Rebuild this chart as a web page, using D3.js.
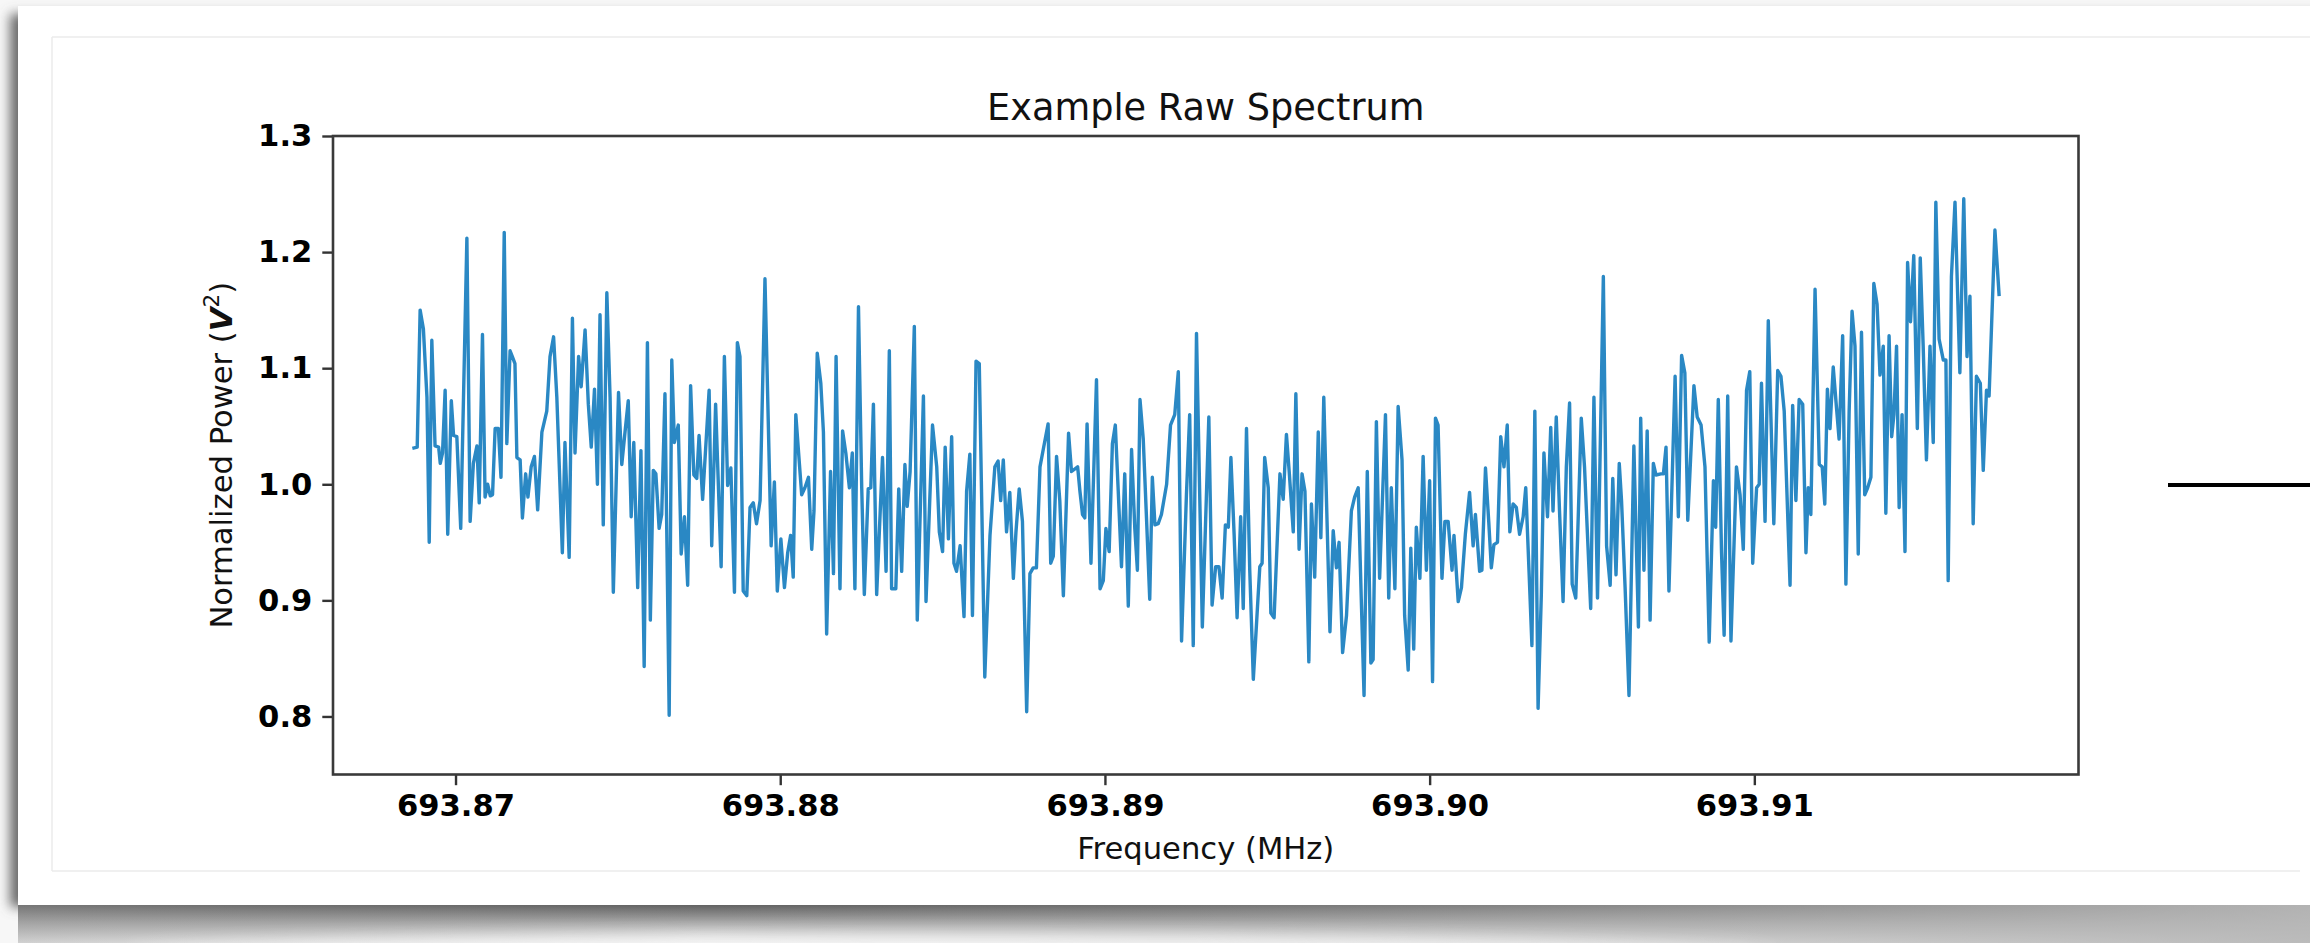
<!DOCTYPE html>
<html>
<head>
<meta charset="utf-8">
<script src="https://cdn.jsdelivr.net/npm/d3@7"></script>
<style>
  html, body { margin: 0; padding: 0; background: #fff; overflow: hidden; }
  text { font-family: "DejaVu Sans", sans-serif; }
</style>
</head>
<body>
<svg id="chart"></svg>
<script>
var width = 2310,
   height = 943;

// frequency of each plotted vertex (MHz) and its normalized power
const freqMHz = [
  693.86867, 693.86882, 693.86891, 693.86901, 693.86912, 693.86919, 693.86927, 693.86937, 693.86948, 693.86953,
  693.86960, 693.86968, 693.86976, 693.86987, 693.86994, 693.87004, 693.87016, 693.87035, 693.87045, 693.87055,
  693.87066, 693.87073, 693.87083, 693.87091, 693.87099, 693.87107, 693.87114, 693.87122, 693.87132, 693.87140,
  693.87150, 693.87158, 693.87168, 693.87175, 693.87183, 693.87189, 693.87199, 693.87206, 693.87216, 693.87223,
  693.87233, 693.87243, 693.87253, 693.87266, 693.87281, 693.87291, 693.87302, 693.87312, 693.87329, 693.87337,
  693.87350, 693.87360, 693.87368, 693.87379, 693.87387, 693.87399, 693.87409, 693.87418, 693.87428, 693.87437,
  693.87445, 693.87455, 693.87466, 693.87476, 693.87486, 693.87502, 693.87512, 693.87522, 693.87532, 693.87541,
  693.87549, 693.87561, 693.87571, 693.87581, 693.87591, 693.87600, 693.87609, 693.87617, 693.87627, 693.87635,
  693.87645, 693.87658, 693.87666, 693.87674, 693.87686, 693.87695, 693.87705, 693.87715, 693.87724, 693.87734,
  693.87743, 693.87750, 693.87761, 693.87781, 693.87789, 693.87801, 693.87818, 693.87828, 693.87838, 693.87848,
  693.87859, 693.87868, 693.87876, 693.87886, 693.87897, 693.87907, 693.87917, 693.87927, 693.87938, 693.87953,
  693.87972, 693.87982, 693.87991, 693.88002, 693.88013, 693.88023, 693.88032, 693.88040, 693.88048, 693.88066,
  693.88076, 693.88087, 693.88097, 693.88104, 693.88114, 693.88125, 693.88133, 693.88143, 693.88155, 693.88164,
  693.88172, 693.88184, 693.88192, 693.88202, 693.88213, 693.88222, 693.88230, 693.88241, 693.88251, 693.88259,
  693.88271, 693.88279, 693.88287, 693.88297, 693.88315, 693.88326, 693.88336, 693.88343, 693.88356, 693.88365,
  693.88374, 693.88384, 693.88391, 693.88400, 693.88413, 693.88422, 693.88441, 693.88449, 693.88469, 693.88482,
  693.88490, 693.88500, 693.88508, 693.88518, 693.88528, 693.88535, 693.88543, 693.88554, 693.88566, 693.88574,
  693.88584, 693.88592, 693.88603, 693.88613, 693.88630, 693.88646, 693.88661, 693.88671, 693.88679, 693.88687,
  693.88697, 693.88707, 693.88718, 693.88726, 693.88736, 693.88746, 693.88759, 693.88769, 693.88779, 693.88789,
  693.88800, 693.88810, 693.88825, 693.88833, 693.88841, 693.88851, 693.88861, 693.88872, 693.88888, 693.88897,
  693.88916, 693.88923, 693.88931, 693.88938, 693.88945, 693.88957, 693.88974, 693.88985, 693.88995, 693.89003,
  693.89013, 693.89023, 693.89032, 693.89041, 693.89051, 693.89061, 693.89072, 693.89082, 693.89092, 693.89100,
  693.89108, 693.89118, 693.89128, 693.89138, 693.89146, 693.89154, 693.89164, 693.89174, 693.89190, 693.89202,
  693.89215, 693.89226, 693.89236, 693.89251, 693.89261, 693.89272, 693.89282, 693.89300, 693.89320, 693.89330,
  693.89341, 693.89351, 693.89361, 693.89371, 693.89380, 693.89388, 693.89398, 693.89407, 693.89418, 693.89426,
  693.89436, 693.89446, 693.89457, 693.89477, 693.89484, 693.89492, 693.89503, 693.89511, 693.89521, 693.89539,
  693.89549, 693.89559, 693.89568, 693.89580, 693.89588, 693.89598, 693.89607, 693.89616, 693.89628, 693.89636,
  693.89646, 693.89657, 693.89665, 693.89674, 693.89693, 693.89703, 693.89713, 693.89721, 693.89732, 693.89744,
  693.89759, 693.89769, 693.89780, 693.89790, 693.89798, 693.89808, 693.89819, 693.89826, 693.89836, 693.89846,
  693.89864, 693.89874, 693.89882, 693.89893, 693.89903, 693.89915, 693.89923, 693.89934, 693.89942, 693.89951,
  693.89959, 693.89970, 693.89980, 693.89990, 693.90000, 693.90009, 693.90018, 693.90026, 693.90038, 693.90047,
  693.90057, 693.90069, 693.90075, 693.90088, 693.90098, 693.90110, 693.90123, 693.90134, 693.90141, 693.90154,
  693.90161, 693.90172, 693.90182, 693.90190, 693.90198, 693.90209, 693.90219, 693.90229, 693.90239, 693.90247,
  693.90257, 693.90267, 693.90277, 693.90288, 693.90296, 693.90306, 693.90315, 693.90324, 693.90334, 693.90344,
  693.90352, 693.90363, 693.90373, 693.90380, 693.90390, 693.90400, 693.90411, 693.90421, 693.90431, 693.90439,
  693.90450, 693.90467, 693.90477, 693.90496, 693.90506, 693.90517, 693.90535, 693.90545, 693.90556, 693.90564,
  693.90574, 693.90584, 693.90591, 693.90602, 693.90614, 693.90629, 693.90643, 693.90650, 693.90660, 693.90670,
  693.90679, 693.90689, 693.90697, 693.90712, 693.90720, 693.90728, 693.90737, 693.90756, 693.90766, 693.90776,
  693.90786, 693.90795, 693.90814, 693.90824, 693.90836, 693.90848, 693.90861, 693.90874, 693.90881, 693.90889,
  693.90899, 693.90907, 693.90918, 693.90928, 693.90945, 693.90956, 693.90966, 693.90976, 693.90986, 693.90995,
  693.91007, 693.91015, 693.91022, 693.91033, 693.91043, 693.91060, 693.91072, 693.91082, 693.91092, 693.91110,
  693.91118, 693.91128, 693.91138, 693.91149, 693.91159, 693.91166, 693.91174, 693.91187, 693.91200, 693.91209,
  693.91217, 693.91225, 693.91233, 693.91243, 693.91253, 693.91261, 693.91272, 693.91282, 693.91292, 693.91301,
  693.91310, 693.91320, 693.91330, 693.91340, 693.91349, 693.91359, 693.91368, 693.91378, 693.91387, 693.91397,
  693.91405, 693.91415, 693.91423, 693.91430, 693.91438, 693.91446, 693.91455, 693.91464, 693.91472, 693.91481,
  693.91491, 693.91502, 693.91511, 693.91520, 693.91530, 693.91541, 693.91551, 693.91559, 693.91569, 693.91582,
  693.91590, 693.91597, 693.91607, 693.91618, 693.91633, 693.91645, 693.91655, 693.91664, 693.91674, 693.91684,
  693.91696, 693.91705, 693.91715, 693.91723, 693.91741, 693.91754
];

const powerNorm = [
  1.031, 1.032, 1.150, 1.134, 1.075, 0.950, 1.124, 1.033, 1.032, 1.018,
  1.027, 1.081, 0.957, 1.072, 1.042, 1.041, 0.962, 1.212, 0.968, 1.018,
  1.033, 0.984, 1.129, 0.989, 1.000, 0.990, 0.991, 1.048, 1.048, 1.006,
  1.217, 1.035, 1.115, 1.110, 1.104, 1.023, 1.021, 0.971, 1.009, 0.989,
  1.015, 1.024, 0.978, 1.045, 1.063, 1.110, 1.127, 1.075, 0.941, 1.036,
  0.937, 1.143, 1.027, 1.110, 1.084, 1.133, 1.069, 1.032, 1.082, 1.000,
  1.146, 0.965, 1.165, 1.075, 0.907, 1.079, 1.017, 1.045, 1.072, 0.972,
  1.036, 0.911, 1.029, 0.843, 1.122, 0.883, 1.012, 1.009, 0.962, 0.974,
  1.078, 0.801, 1.107, 1.036, 1.051, 0.940, 0.972, 0.913, 1.085, 1.008,
  1.005, 1.042, 0.987, 1.081, 0.947, 1.069, 0.929, 1.110, 0.999, 1.014,
  0.907, 1.122, 1.110, 0.908, 0.904, 0.980, 0.984, 0.966, 0.986, 1.177,
  0.947, 1.002, 0.908, 0.953, 0.911, 0.941, 0.956, 0.920, 1.060, 0.991,
  0.997, 1.006, 0.944, 0.977, 1.113, 1.087, 1.045, 0.871, 1.011, 0.923,
  1.110, 0.910, 1.046, 1.027, 0.997, 1.027, 0.910, 1.153, 0.997, 0.905,
  0.996, 0.997, 1.069, 0.905, 1.023, 0.925, 1.115, 0.910, 0.910, 0.996,
  0.925, 1.017, 0.981, 1.011, 1.136, 0.883, 1.076, 0.899, 1.051, 1.015,
  0.959, 0.942, 1.032, 0.953, 1.041, 0.932, 0.925, 0.947, 0.886, 0.994,
  1.026, 0.887, 1.106, 1.104, 0.834, 0.956, 1.015, 1.020, 0.986, 1.021,
  0.959, 0.993, 0.919, 0.959, 0.996, 0.968, 0.804, 0.923, 0.928, 0.928,
  1.015, 1.030, 1.052, 0.932, 0.938, 1.024, 0.986, 0.904, 1.044, 1.011,
  1.015, 0.994, 0.974, 0.971, 1.052, 0.932, 1.090, 0.910, 0.917, 0.962,
  0.942, 1.035, 1.051, 0.994, 0.929, 1.009, 0.895, 1.030, 0.962, 0.926,
  1.073, 1.039, 0.971, 0.901, 1.006, 0.965, 0.966, 0.974, 1.000, 1.051,
  1.060, 1.097, 0.865, 0.991, 1.060, 0.861, 1.130, 0.877, 1.058, 0.896,
  0.929, 0.929, 0.902, 0.965, 0.963, 1.023, 0.956, 0.885, 0.972, 0.893,
  1.048, 0.926, 0.832, 0.929, 0.932, 1.023, 0.997, 0.889, 0.885, 1.009,
  0.987, 1.043, 1.009, 0.959, 1.078, 0.944, 1.009, 0.994, 0.847, 0.983,
  0.920, 1.045, 0.954, 1.075, 0.873, 0.960, 0.928, 0.950, 0.855, 0.887,
  0.977, 0.989, 0.997, 0.896, 0.818, 1.011, 0.846, 0.849, 1.054, 0.919,
  1.060, 0.902, 0.997, 0.910, 1.067, 1.021, 0.887, 0.840, 0.945, 0.858,
  0.963, 0.919, 1.024, 0.926, 1.003, 0.830, 1.057, 1.051, 0.919, 0.968,
  0.968, 0.926, 0.956, 0.899, 0.911, 0.957, 0.993, 0.947, 0.974, 0.925,
  0.926, 1.014, 0.968, 0.928, 0.948, 0.950, 1.041, 1.015, 1.051, 0.959,
  0.983, 0.980, 0.957, 0.972, 0.997, 0.926, 0.861, 1.063, 0.807, 0.905,
  1.027, 0.972, 1.049, 0.977, 1.058, 0.977, 0.899, 1.015, 1.070, 0.914,
  0.902, 1.057, 1.015, 0.893, 1.075, 0.902, 1.179, 0.947, 0.913, 1.005,
  0.922, 1.018, 0.986, 0.911, 0.818, 1.033, 0.877, 1.057, 0.926, 1.046,
  0.883, 1.018, 1.008, 1.009, 1.009, 1.032, 0.908, 1.093, 0.972, 1.111,
  1.096, 0.969, 1.085, 1.058, 1.051, 1.015, 0.864, 1.003, 0.963, 1.073,
  0.941, 0.870, 1.076, 0.865, 1.015, 0.991, 0.944, 1.081, 1.097, 0.932,
  0.997, 1.000, 1.087, 0.968, 1.141, 0.966, 1.098, 1.093, 1.063, 0.913,
  1.068, 0.986, 1.073, 1.069, 0.941, 0.997, 0.974, 1.168, 1.017, 1.015,
  0.983, 1.082, 1.048, 1.101, 1.066, 1.039, 1.128, 0.914, 1.063, 1.149,
  1.119, 0.940, 1.131, 0.991, 0.997, 1.006, 1.173, 1.155, 1.094, 1.119,
  0.975, 1.128, 1.041, 1.060, 1.119, 0.980, 1.060, 0.942, 1.191, 1.140,
  1.197, 1.048, 1.195, 1.119, 1.021, 1.119, 1.036, 1.243, 1.125, 1.107,
  1.107, 0.917, 1.179, 1.243, 1.096, 1.246, 1.110, 1.162, 0.966, 1.093,
  1.087, 1.012, 1.081, 1.076, 1.219, 1.162
];

const xTickValues = [693.87, 693.88, 693.89, 693.90, 693.91];
const yTickValues = [0.8, 0.9, 1.0, 1.1, 1.2, 1.3];
const yLimits = [0.75, 1.3];

const chartTitle = 'Example Raw Spectrum';
const xLabelText = 'Frequency (MHz)';

// plot area box (page pixels)
var plot = {left: 333, right: 2078.5, top: 136, bottom: 774.5};
var lineColor = '#2a88c4';

const svg = d3.select('#chart')
   .attr('width', width)
   .attr('height', height);

var defs = svg.append('defs');

defs.append('filter')
   .attr('id', 'soft')
   .attr('x', '-5%').attr('y', '-10%')
   .attr('width', '110%').attr('height', '130%')
   .append('feGaussianBlur')
   .attr('stdDeviation', 6);

defs.append('filter')
   .attr('id', 'wide')
   .attr('x', '-20%').attr('y', '-200%')
   .attr('width', '140%').attr('height', '500%')
   .append('feGaussianBlur')
   .attr('stdDeviation', 9);

var bandV = defs.append('linearGradient')
   .attr('id', 'bandV')
   .attr('x1', 0).attr('y1', 0).attr('x2', 0).attr('y2', 1);
bandV.append('stop').attr('offset', 0).attr('stop-color', '#626262');
bandV.append('stop').attr('offset', 0.45).attr('stop-color', '#a6a6a6');
bandV.append('stop').attr('offset', 1).attr('stop-color', '#efefef');

var bandH = defs.append('linearGradient')
   .attr('id', 'bandH')
   .attr('x1', 0).attr('y1', 0).attr('x2', 1).attr('y2', 0);
bandH.append('stop').attr('offset', 0).attr('stop-color', '#9a9a9a').attr('stop-opacity', 0.35);
bandH.append('stop').attr('offset', 0.3).attr('stop-color', '#9a9a9a').attr('stop-opacity', 0);
bandH.append('stop').attr('offset', 0.6).attr('stop-color', '#b0b0b0').attr('stop-opacity', 0.35);
bandH.append('stop').attr('offset', 1).attr('stop-color', '#b8b8b8').attr('stop-opacity', 0.95);

// page background and the card with its shadow
svg.append('rect')
   .attr('width', width).attr('height', height)
   .attr('fill', '#f7f7f7');

svg.append('rect')
   .attr('x', 10).attr('y', 14)
   .attr('width', width + 40).attr('height', 893)
   .attr('fill', '#6a6a6a')
   .attr('filter', 'url(#soft)');

svg.append('rect')
   .attr('x', 18).attr('y', 905)
   .attr('width', width).attr('height', height - 905)
   .attr('fill', 'url(#bandV)');

svg.append('rect')
   .attr('x', 18).attr('y', 905)
   .attr('width', width).attr('height', height - 905)
   .attr('fill', 'url(#bandH)');

// light curl under the middle of the card
svg.append('ellipse')
   .attr('cx', 950).attr('cy', 956)
   .attr('rx', 820).attr('ry', 20)
   .attr('fill', '#f4f4f4')
   .attr('opacity', 0.85)
   .attr('filter', 'url(#wide)');

svg.append('rect')
   .attr('x', 18).attr('y', 6)
   .attr('width', width).attr('height', 899)
   .attr('fill', '#fff');

// faint inner frame lines
var frame = svg.append('g')
   .attr('stroke', '#ebebeb')
   .attr('stroke-width', 1.5);
frame.append('line').attr('x1', 52).attr('y1', 37).attr('x2', width).attr('y2', 37);
frame.append('line').attr('x1', 52).attr('y1', 871).attr('x2', 2300).attr('y2', 871);
frame.append('line').attr('x1', 52).attr('y1', 37).attr('x2', 52).attr('y2', 871);

// black connector line at the right
svg.append('line')
   .attr('x1', 2168).attr('y1', 485)
   .attr('x2', width).attr('y2', 485)
   .attr('stroke', '#000')
   .attr('stroke-width', 4);

// scales: x limits padded 5% like the original plot
var fMin = d3.min(freqMHz), fMax = d3.max(freqMHz);
var fPad = (fMax - fMin) * 0.05;

var x = d3.scaleLinear()
   .domain([fMin - fPad, fMax + fPad])
   .range([plot.left, plot.right]);

var y = d3.scaleLinear()
   .domain(yLimits)
   .range([plot.bottom, plot.top]);

var points = freqMHz.map((f, i) => [f, powerNorm[i]]);

var line = d3.line()
   .x(d => x(d[0]))
   .y(d => y(d[1]));

var plotLayer = svg.append('g').attr('class', 'plot-layer');

plotLayer.append('path')
   .datum(points)
   .attr('d', line)
   .attr('fill', 'none')
   .attr('stroke', lineColor)
   .attr('stroke-width', 3.4)
   .attr('stroke-linejoin', 'round');

// axes
var xAxis = d3.axisBottom(x)
   .tickValues(xTickValues)
   .tickFormat(d3.format('.2f'))
   .tickSize(10.7)
   .tickPadding(9);

var yAxis = d3.axisLeft(y)
   .tickValues(yTickValues)
   .tickFormat(d3.format('.1f'))
   .tickSize(10.7)
   .tickPadding(10);

var gx = svg.append('g')
   .attr('transform', 'translate(0,' + plot.bottom + ')')
   .call(xAxis);

var gy = svg.append('g')
   .attr('transform', 'translate(' + plot.left + ',0)')
   .call(yAxis);

[gx, gy].forEach(g => {
   g.select('.domain').remove();
   g.selectAll('.tick line')
      .attr('stroke', '#333')
      .attr('stroke-width', 2.4);
   g.selectAll('.tick text')
      .attr('fill', '#000')
      .style('font-family', '"DejaVu Sans", sans-serif')
      .style('font-size', '30.6px')
      .style('font-weight', 'bold');
});

// axes frame
svg.append('rect')
   .attr('x', plot.left).attr('y', plot.top)
   .attr('width', plot.right - plot.left)
   .attr('height', plot.bottom - plot.top)
   .attr('fill', 'none')
   .attr('stroke', '#3a3a3a')
   .attr('stroke-width', 2.6);

// title and axis labels
svg.append('text')
   .attr('x', (plot.left + plot.right) / 2)
   .attr('y', 120)
   .attr('text-anchor', 'middle')
   .attr('fill', '#111')
   .style('font-size', '36.7px')
   .text(chartTitle);

svg.append('text')
   .attr('x', (plot.left + plot.right) / 2)
   .attr('y', 859)
   .attr('text-anchor', 'middle')
   .attr('fill', '#111')
   .style('font-size', '30.6px')
   .text(xLabelText);

var yl = svg.append('text')
   .attr('transform', 'translate(232,' + ((plot.top + plot.bottom) / 2) + ') rotate(-90)')
   .attr('text-anchor', 'middle')
   .attr('fill', '#111')
   .style('font-size', '30.6px');
yl.append('tspan').text('Normalized Power (');
yl.append('tspan')
   .style('font-weight', 'bold')
   .style('font-style', 'italic')
   .text('V');
yl.append('tspan')
   .attr('dy', -13)
   .style('font-size', '21.5px')
   .text('2');
yl.append('tspan')
   .attr('dy', 13)
   .text(')');
</script>
</body>
</html>
